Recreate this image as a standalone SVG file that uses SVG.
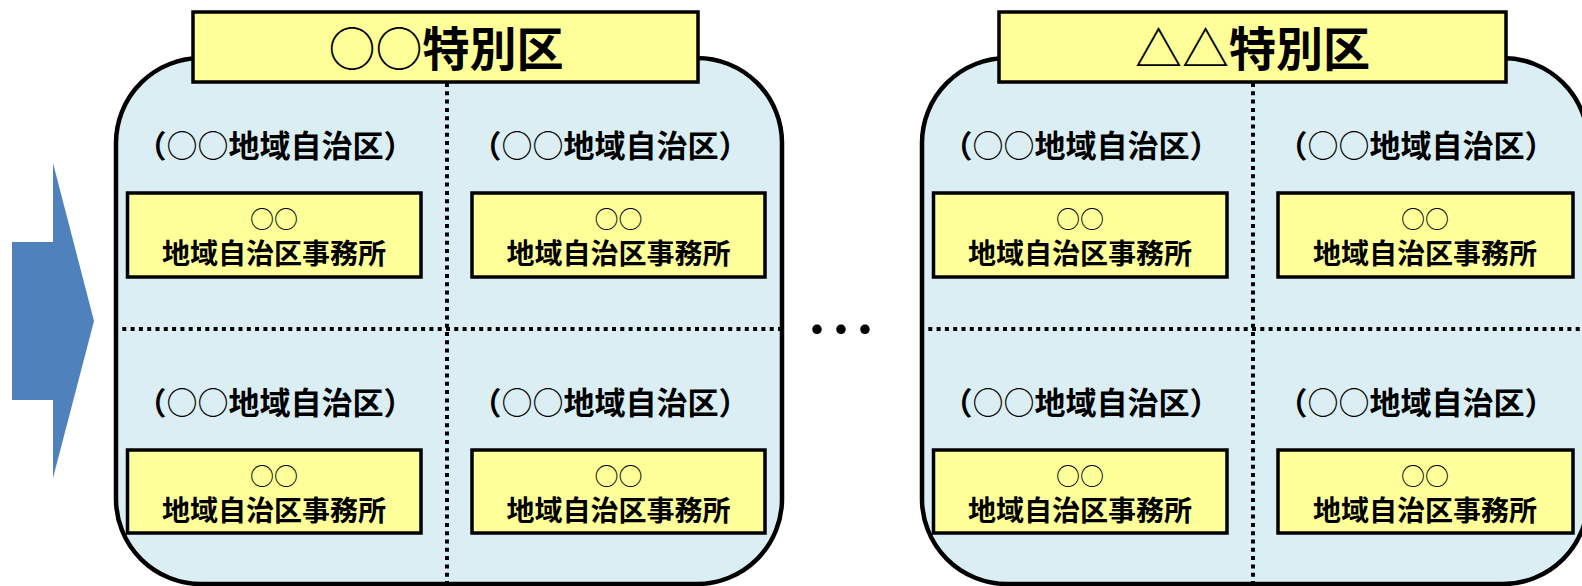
<svg xmlns="http://www.w3.org/2000/svg" width="1582" height="586" viewBox="0 0 1582 586">
<style>
.panel{fill:#DAEEF3;stroke:#000;stroke-width:4.5}
.title{fill:#FFFF99;stroke:#000;stroke-width:3.5}
.box{fill:#FFFF99;stroke:#000;stroke-width:3.5}
.div{stroke:#000;stroke-width:4;stroke-dasharray:4 4.3;fill:none}
text{font-family:"Noto Sans CJK JP","Noto Sans CJK SC",sans-serif;fill:#000;text-anchor:middle}
.tt{font-size:47px;font-weight:700}
.lb{font-size:31px;font-weight:700}
.c1{font-size:24px;font-weight:400}
.c2{font-size:28px;font-weight:700}
.thin{font-weight:400}
</style>
<g id="arrow">
<polygon points="12,242 53,242 53,163 94,321 53,478 53,400 12,400" fill="#4F81BD"/>
</g>
<g id="ellipsis">
<text x="841" y="356" style="font-size:72px;font-weight:400">…</text>
</g>
<g id="ward-A">
<rect class="panel" x="116" y="58" width="666" height="526" rx="85" ry="85"/>
<g id="dividers-A">
<line class="div" x1="447" y1="83" x2="447" y2="584"/>
<line class="div" x1="114" y1="329" x2="782" y2="329"/>
</g>
<rect class="title" x="193" y="12" width="505" height="70"/>
<text class="tt" x="446" y="66"><tspan class="thin">○○</tspan>特別区</text>
<g id="A-d1">
<text class="lb" x="275" y="157">（<tspan class="thin">○○</tspan>地域自治区）</text>
<rect class="box" x="127.5" y="193" width="293.5" height="84"/>
<text class="c1" x="274" y="228">○○</text>
<text class="c2" x="274" y="264">地域自治区事務所</text>
</g>
<g id="A-d2">
<text class="lb" x="610" y="157">（<tspan class="thin">○○</tspan>地域自治区）</text>
<rect class="box" x="472" y="193" width="293" height="84"/>
<text class="c1" x="618.5" y="228">○○</text>
<text class="c2" x="618.5" y="264">地域自治区事務所</text>
</g>
<g id="A-d3">
<text class="lb" x="275" y="414">（<tspan class="thin">○○</tspan>地域自治区）</text>
<rect class="box" x="127.5" y="450" width="293.5" height="83"/>
<text class="c1" x="274" y="485">○○</text>
<text class="c2" x="274" y="521">地域自治区事務所</text>
</g>
<g id="A-d4">
<text class="lb" x="610" y="414">（<tspan class="thin">○○</tspan>地域自治区）</text>
<rect class="box" x="472" y="450" width="293" height="83"/>
<text class="c1" x="618.5" y="485">○○</text>
<text class="c2" x="618.5" y="521">地域自治区事務所</text>
</g>
</g>
<g id="ward-B">
<rect class="panel" x="922" y="58" width="666" height="526" rx="85" ry="85"/>
<g id="dividers-B">
<line class="div" x1="1253" y1="83" x2="1253" y2="584"/>
<line class="div" x1="920" y1="329" x2="1582" y2="329"/>
</g>
<rect class="title" x="999" y="12" width="507" height="70"/>
<text class="tt" x="1252.5" y="66"><tspan class="thin">△△</tspan>特別区</text>
<g id="B-d1">
<text class="lb" x="1081" y="157">（<tspan class="thin">○○</tspan>地域自治区）</text>
<rect class="box" x="933.5" y="193" width="293.5" height="84"/>
<text class="c1" x="1080" y="228">○○</text>
<text class="c2" x="1080" y="264">地域自治区事務所</text>
</g>
<g id="B-d2">
<text class="lb" x="1416" y="157">（<tspan class="thin">○○</tspan>地域自治区）</text>
<rect class="box" x="1278" y="193" width="295" height="84"/>
<text class="c1" x="1425" y="228">○○</text>
<text class="c2" x="1425" y="264">地域自治区事務所</text>
</g>
<g id="B-d3">
<text class="lb" x="1081" y="414">（<tspan class="thin">○○</tspan>地域自治区）</text>
<rect class="box" x="933.5" y="450" width="293.5" height="83"/>
<text class="c1" x="1080" y="485">○○</text>
<text class="c2" x="1080" y="521">地域自治区事務所</text>
</g>
<g id="B-d4">
<text class="lb" x="1416" y="414">（<tspan class="thin">○○</tspan>地域自治区）</text>
<rect class="box" x="1278" y="450" width="295" height="83"/>
<text class="c1" x="1425" y="485">○○</text>
<text class="c2" x="1425" y="521">地域自治区事務所</text>
</g>
</g>
</svg>
